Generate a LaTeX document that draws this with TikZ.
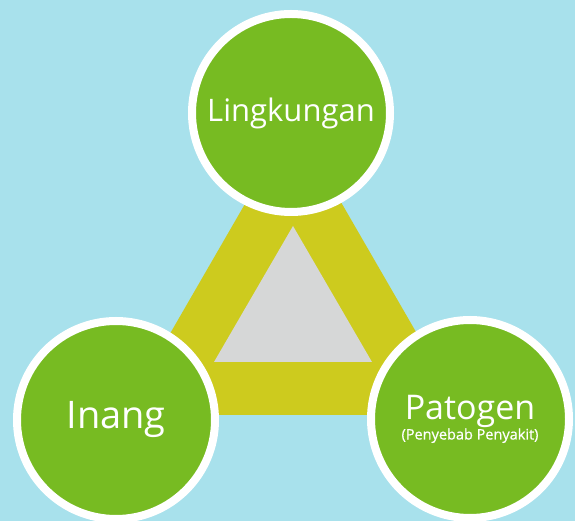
\documentclass[tikz,border=0pt]{standalone}
\usepackage{fontspec}
\setmainfont{Open Sans}
\newfontfamily\medfont[FakeBold=0.8]{Open Sans}
\definecolor{bgblue}{RGB}{168,225,236}
\definecolor{leafgreen}{RGB}{119,187,34}
\definecolor{mustard}{RGB}{205,203,30}
\definecolor{lightgray}{RGB}{214,215,215}
\begin{document}
\begin{tikzpicture}[x=1pt,y=1pt,
  circ/.style={circle,draw=white,line width=8pt,fill=leafgreen,minimum size=198pt,inner sep=0pt,text=white,align=center}]
\fill[bgblue] (0,0) rectangle (575,521);
\useasboundingbox (0,0) rectangle (575,521);
\clip (0,0) rectangle (575,521);
\fill[mustard] (293.5,401) -- (123,106) -- (464,106) -- cycle;
\fill[lightgray] (293,295) -- (214,159) -- (372,159) -- cycle;
\node[circ] (ling) at (291,408) {\raisebox{-3pt}{\fontsize{31}{36}\selectfont Lingkungan}};
\node[circ] (inang) at (116,101) {\fontsize{38}{44}\selectfont Inang};
\node[circ] (pato) at (470,102) {\fontsize{34}{38}\selectfont Patogen\\[0pt]{\medfont\fontsize{14.5}{16}\selectfont (Penyebab Penyakit)}};
\end{tikzpicture}
\end{document}
